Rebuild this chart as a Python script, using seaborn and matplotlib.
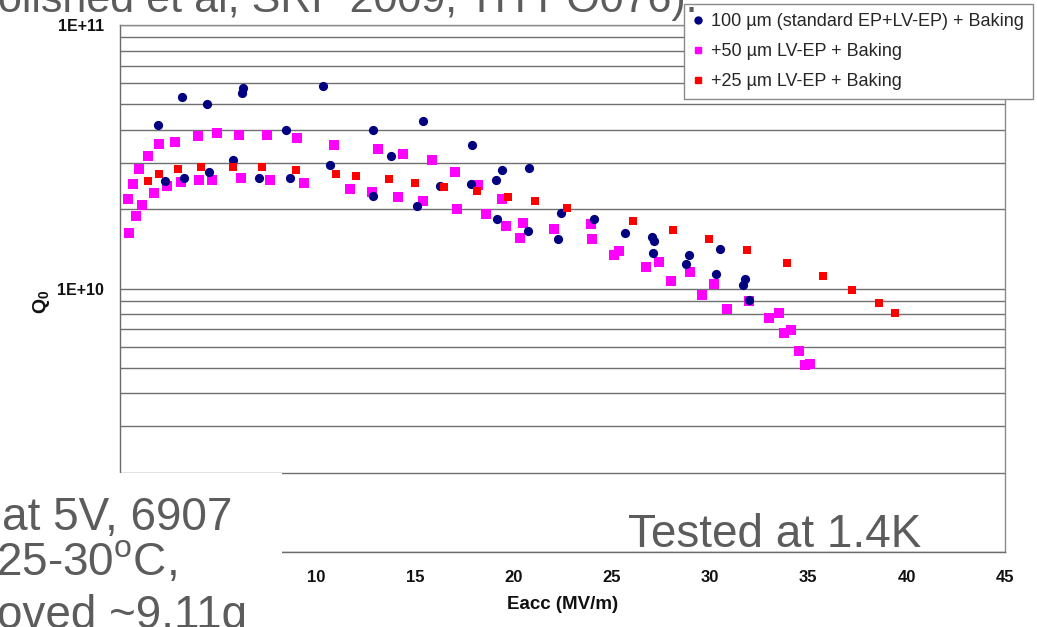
import math
import matplotlib.pyplot as plt
import seaborn as sns
from matplotlib.lines import Line2D
from matplotlib.patches import Rectangle
from matplotlib.ticker import LogLocator, FixedLocator, FuncFormatter

# 100 um (standard EP+LV-EP) + Baking
navy_e = [1.95, 2.29, 3.17, 3.25, 4.41, 4.52, 5.73, 6.2, 6.25, 7.08, 8.42, 8.66,
          10.3, 10.68, 12.85, 12.88, 13.76, 15.12, 15.39, 16.27, 17.83, 17.9,
          19.12, 19.15, 19.42, 20.73, 20.79, 22.25, 22.42, 24.1, 25.66, 27.05,
          27.15, 27.1, 28.78, 28.93, 30.33, 30.5, 31.67, 31.8, 32.0]
navy_q = [4.16e10, 2.56e10, 5.33e10, 2.62e10, 5.03e10, 2.78e10, 3.07e10, 5.5e10, 5.75e10, 2.62e10, 3.98e10, 2.62e10,
          5.85e10, 2.95e10, 3.99e10, 2.25e10, 3.18e10, 2.06e10, 4.32e10, 2.44e10, 2.49e10, 3.51e10,
          2.58e10, 1.83e10, 2.82e10, 1.66e10, 2.86e10, 1.54e10, 1.93e10, 1.84e10, 1.63e10, 1.57e10,
          1.52e10, 1.36e10, 1.24e10, 1.34e10, 1.14e10, 1.41e10, 1.03e10, 1.09e10, 9.04e9]

# +50 um LV-EP + Baking
pink_e = [0.46, 0.42, 0.64, 0.8, 0.98, 1.13, 1.42, 1.71, 2.0, 2.41, 2.81, 3.12, 3.97, 4.0,
          4.93, 4.68, 6.07, 6.13, 7.46, 7.61, 9.0, 9.37, 10.86, 11.69, 13.12, 12.8, 14.39,
          14.15, 15.88, 15.42, 17.05, 17.15, 18.23, 18.6, 19.42, 19.62, 20.34, 20.5, 22.08,
          23.94, 23.98, 25.1, 25.37, 26.77, 27.4, 28.01, 28.98, 29.62, 30.2, 30.88, 32.0,
          33.01, 33.52, 33.76, 34.1, 34.54, 34.83, 35.11]
pink_q = [1.63e10, 2.19e10, 2.49e10, 1.89e10, 2.84e10, 2.08e10, 3.18e10, 2.30e10, 3.53e10, 2.45e10, 3.59e10, 2.54e10, 3.78e10, 2.59e10,
          3.88e10, 2.58e10, 3.83e10, 2.63e10, 3.81e10, 2.58e10, 3.73e10, 2.52e10, 3.52e10, 2.38e10, 3.38e10, 2.33e10, 3.23e10,
          2.22e10, 3.07e10, 2.14e10, 2.78e10, 2.0e10, 2.48e10, 1.92e10, 2.19e10, 1.72e10, 1.55e10, 1.78e10, 1.68e10,
          1.75e10, 1.54e10, 1.34e10, 1.39e10, 1.21e10, 1.26e10, 1.07e10, 1.16e10, 9.44e9, 1.04e10, 8.34e9, 8.96e9,
          7.75e9, 8.05e9, 6.76e9, 6.96e9, 5.8e9, 5.12e9, 5.15e9]

# +25 um LV-EP + Baking
red_e = [1.44, 2.0, 2.93, 4.1, 5.73, 7.23, 8.93, 11.0, 12.01, 13.66, 15.01, 16.5, 18.13,
         19.71, 21.11, 22.72, 26.1, 28.13, 29.96, 31.89, 33.94, 35.76, 37.23, 38.57, 39.43]
red_q = [2.56e10, 2.73e10, 2.83e10, 2.88e10, 2.9e10, 2.89e10, 2.81e10, 2.72e10, 2.67e10, 2.61e10, 2.51e10, 2.43e10, 2.34e10,
         2.23e10, 2.15e10, 2.02e10, 1.81e10, 1.67e10, 1.54e10, 1.40e10, 1.25e10, 1.12e10, 9.91e9, 8.83e9, 8.05e9]

labels = ['100 \u00b5m (standard EP+LV-EP) + Baking',
          '+50 \u00b5m LV-EP + Baking',
          '+25 \u00b5m LV-EP + Baking']
x_ticks = [0, 5, 10, 15, 20, 25, 30, 35, 40, 45]

sns.set_style('white')
plt.rcParams['font.family'] = ['Liberation Sans', 'DejaVu Sans']
plt.rcParams['mathtext.fontset'] = 'custom'
plt.rcParams['mathtext.rm'] = 'Liberation Sans'
plt.rcParams['mathtext.bf'] = 'Liberation Sans:bold'

navy, pink, red = '#000080', '#ff00ff', '#ff0000'
slide_grey = '#5c5c5c'

fig = plt.figure(figsize=(10.37, 6.27), dpi=100)
ax = fig.add_axes([0.1157, 0.1196, 0.8534, 0.8405])

sns.scatterplot(x=pink_e, y=pink_q, ax=ax, marker='s', color=pink, s=44, linewidth=0, zorder=3)
sns.scatterplot(x=navy_e, y=navy_q, ax=ax, marker='o', color=navy, s=44, linewidth=0, zorder=4)
sns.scatterplot(x=red_e, y=red_q, ax=ax, marker='s', color=red, s=34, linewidth=0, zorder=5)

ax.set_yscale('log')
ax.set_ylim(1e9, 1e11)
ax.set_xlim(0, 45)
ax.xaxis.set_major_locator(FixedLocator(x_ticks))
ax.yaxis.set_major_locator(LogLocator(base=10))
ax.yaxis.set_minor_locator(LogLocator(base=10, subs=range(2, 10)))
ax.yaxis.set_major_formatter(FuncFormatter(lambda v, p: '1E+%02d' % round(math.log10(v))))
ax.yaxis.set_minor_formatter(FuncFormatter(lambda v, p: ''))
ax.grid(which='both', axis='y', color='#707070', linewidth=1.0)
ax.grid(False, axis='x')
ax.set_axisbelow(True)

for side in ['top', 'right']:
    ax.spines[side].set_color('#8a8a8a')
for side in ['left', 'bottom']:
    ax.spines[side].set_color('#6a6a6a')
for sp in ax.spines.values():
    sp.set_linewidth(1.0)

ax.tick_params(axis='y', which='major', direction='out', length=4.5, width=1, color='#6a6a6a',
               pad=7, labelsize=11.5)
ax.tick_params(axis='y', which='minor', length=0)
ax.tick_params(axis='x', direction='out', length=4, width=1, color='#6a6a6a', pad=9, labelsize=12)
for t in ax.get_xticklabels() + ax.get_yticklabels():
    t.set_fontweight('bold')
    t.set_color('#111111')

ax.set_xlabel('Eacc (MV/m)', fontsize=13.5, fontweight='bold', labelpad=8, color='#111111')
ax.set_ylabel(r'$\mathbf{Q_0}$', fontsize=14, color='#111111')
ax.yaxis.set_label_coords(-0.077, 0.475)

handles = [Line2D([], [], ls='', marker='o', color=navy, markersize=5),
           Line2D([], [], ls='', marker='s', color=pink, markersize=4.5),
           Line2D([], [], ls='', marker='s', color=red, markersize=4.5)]
leg = ax.legend(handles, labels, loc='upper left', bbox_to_anchor=(684 / 1037, 1 - 4 / 627),
                bbox_transform=fig.transFigure, borderaxespad=0, fontsize=13, frameon=True,
                fancybox=False, edgecolor='#8a8a8a', framealpha=1, handlelength=0.6,
                handletextpad=0.4, labelspacing=0.72, borderpad=0.5)
leg.get_frame().set_linewidth(1.0)
leg.set_zorder(10)

# slide text box covering the lower left of the chart
fig.patches.append(Rectangle((0, 0), 282 / 1037, (627 - 473) / 627, transform=fig.transFigure,
                             facecolor='white', edgecolor='none', zorder=5))

big = dict(fontsize=33, color=slide_grey, transform=fig.transFigure, zorder=6, va='baseline')
fig.text(2 / 1037, 1 - 530 / 627, 'at 5V, 6907', ha='left', **big)
fig.text(-4 / 1037, 1 - 575 / 627, '25-30$^{\\mathrm{o}}$C,', ha='left', **big)
fig.text(-3 / 1037, 1 - 628 / 627, 'oved ~9.11g', ha='left', **big)
fig.text(921 / 1037, 1 - 547 / 627, 'Tested at 1.4K', ha='right', **big)
fig.text(-2 / 1037, 1 - 12 / 627, 'olished et al, SRF 2009, TH PO076).', ha='left',
         **dict(big, fontsize=31))

fig.savefig('out.png', dpi=100)
